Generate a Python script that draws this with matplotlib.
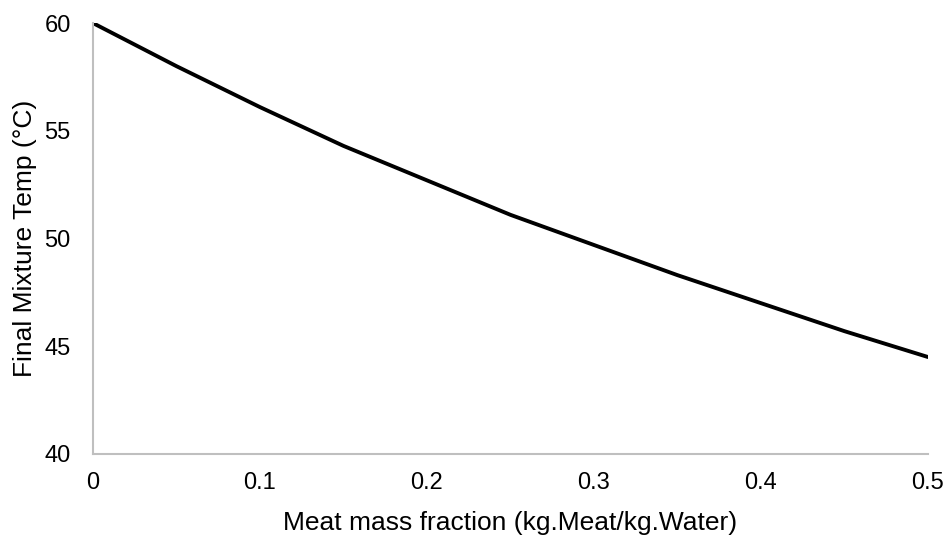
import matplotlib
matplotlib.use("Agg")
import matplotlib.pyplot as plt

# Final mixture temperature vs. meat mass fraction
meat_fraction = [0.0, 0.05, 0.10, 0.15, 0.20, 0.25, 0.30, 0.35, 0.40, 0.45, 0.50]
mixture_temp = [60.0, 58.0, 56.1, 54.3, 52.7, 51.1, 49.7, 48.3, 47.0, 45.7, 44.5]

x_ticks = [0, 0.1, 0.2, 0.3, 0.4, 0.5]
y_ticks = [40, 45, 50, 55, 60]

plt.rcParams['font.family'] = ['Liberation Sans', 'DejaVu Sans']

fig = plt.figure(figsize=(9.45, 5.37), dpi=100)
ax = fig.add_axes([0.0984, 0.1546, 0.8836, 0.8024])

ax.plot(meat_fraction, mixture_temp, color='black', linewidth=2.8, solid_capstyle='round')

ax.set_xlim(0, 0.5)
ax.set_ylim(40, 60)
ax.set_xticks(x_ticks)
ax.set_xticklabels(['0', '0.1', '0.2', '0.3', '0.4', '0.5'])
ax.set_yticks(y_ticks)

for side in ['top', 'right']:
    ax.spines[side].set_visible(False)
for side in ['left', 'bottom']:
    ax.spines[side].set_color('#BFBFBF')
    ax.spines[side].set_linewidth(1.5)

ax.tick_params(axis='both', length=0, labelsize=17, colors='black')
ax.tick_params(axis='y', pad=16)
ax.tick_params(axis='x', pad=13)

ax.set_xlabel('Meat mass fraction (kg.Meat/kg.Water)', fontsize=19, labelpad=12)
ax.set_ylabel('Final Mixture Temp (°C)', fontsize=19, labelpad=5)

fig.savefig('out.png', dpi=100)
